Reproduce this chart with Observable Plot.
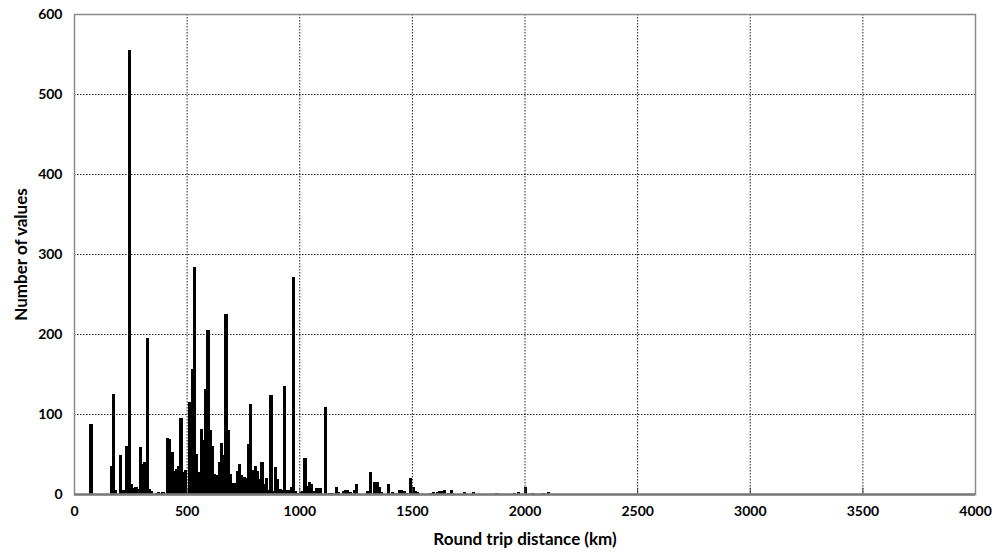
<!DOCTYPE html>
<html><head><meta charset="utf-8">
<script src="https://cdn.jsdelivr.net/npm/d3@7"></script>
<script src="https://cdn.jsdelivr.net/npm/@observablehq/plot@0.6"></script>
<style>
body{margin:0;background:#fff;}
#chart svg{font-family:Lato,"Open Sans",sans-serif;font-weight:bold;}
g[aria-label="x-axis label"], g[aria-label="y-axis label"]{font-size:17px;}
g[aria-label="x-axis tick label"], g[aria-label="y-axis tick label"]{font-size:14px;}
</style></head><body><div id="chart"></div>
<script>
const binStarts = [70,160,170,180,200,210,220,230,240,250,260,270,280,290,300,310,320,330,340,360,370,380,390,
410,420,430,440,450,460,470,480,490,500,510,520,530,540,550,560,570,580,590,600,610,620,630,640,650,660,670,680,690,
700,710,720,730,740,750,760,770,780,790,800,810,820,830,840,850,860,870,880,890,900,910,920,930,940,950,960,970,980,990,
1000,1010,1020,1030,1040,1050,1060,1070,1080,1090,1110,1130,1140,1160,1170,1190,1200,1210,1220,1240,1250,1300,1310,
1330,1340,1350,1360,1390,1410,1420,1440,1450,1460,1470,1490,1500,1510,1520,1580,1590,1610,1620,1630,1640,1660,1670,
1730,1770,1870,1950,1970,2000,2030,2080,2100];
const counts = [87,35,125,4,48,4,5,60,555,12,7,8,6,58,37,40,194,6,3,1,2,1,2,
70,68,52,28,31,34,95,27,29,1,115,156,283,49,27,81,67,131,204,80,60,25,23,39,63,48,224,79,25,
13,13,28,37,23,21,20,62,112,30,34,28,18,40,12,19,4,123,3,33,18,6,5,135,5,5,8,271,3,1,
2,3,45,10,15,12,3,7,7,7,108,1,1,8,2,3,4,4,2,4,12,3,27,
15,15,8,2,12,2,1,4,4,3,1,19,8,3,2,1,2,2,3,3,5,1,4,
2,2,1,1,2,8,1,1,2];
const binWidth = 10;
const xTicks = [0,500,1000,1500,2000,2500,3000,3500,4000];
const yTicks = [0,100,200,300,400,500,600];
const xLabel = "Round trip distance (km)";
const yLabel = "Number of values";

const data = binStarts.map((b,i)=>({x1:b, x2:b+binWidth, count:counts[i]}));
const inner = xTicks.slice(1,-1);
const innerY = yTicks.slice(1,-1);

const chart = Plot.plot({
  width:992, height:553,
  marginLeft:74, marginRight:17, marginTop:14, marginBottom:59,
  style:{fontFamily:"Lato, 'Open Sans', sans-serif", fontWeight:"bold", color:"#000", background:"#fff", overflow:"visible"},
  x:{domain:[0,4000]},
  y:{domain:[0,600]},
  marks:[
    Plot.gridX(inner, {stroke:"#222", strokeOpacity:1, strokeDasharray:"1.5,1.5"}),
    Plot.gridY(innerY, {stroke:"#222", strokeOpacity:1, strokeDasharray:"1.5,1.5"}),
    Plot.rectY(data, {x1:"x1", x2:"x2", y1:0, y2:"count", fill:"#000", insetLeft:0, insetRight:0, stroke:"#000", strokeWidth:1, shapeRendering:"crispEdges"}),
    Plot.ruleX(inner, {y1:0, y2:8, stroke:"#444"}),
    Plot.frame({stroke:"#8a8a8a", strokeWidth:1.5}),
    Plot.ruleY([0], {stroke:"#7a7a7a", strokeWidth:2.5}),
    Plot.axisX(xTicks, {tickSize:0, tickPadding:12, tickFormat:d=>String(d), label:xLabel, labelAnchor:"center", labelOffset:50, labelArrow:"none"}),
    Plot.axisY(yTicks, {tickSize:0, tickPadding:12, tickFormat:d=>String(d), label:yLabel, labelAnchor:"center", labelOffset:60, labelArrow:"none"})
  ]
});
document.getElementById("chart").appendChild(chart);
</script></body></html>
